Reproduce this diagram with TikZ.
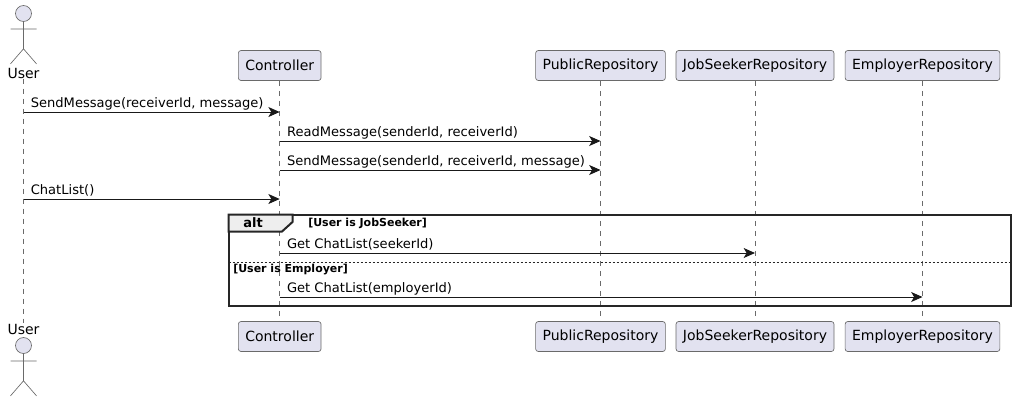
\documentclass[tikz,border=0pt]{standalone}
\usepackage{fontspec}
\setmainfont{DejaVu Sans}
\usetikzlibrary{arrows.meta}
\definecolor{partfill}{HTML}{E2E2F0}
\definecolor{partline}{HTML}{6A6A6A}
\definecolor{tabfill}{HTML}{EEEEEE}
\tikzset{
  partbox/.style={draw=partline,line width=0.5pt,fill=partfill,rounded corners=2pt,minimum height=22.5pt,inner xsep=5.2pt,inner ysep=0pt,font=\fontsize{10.5}{12}\selectfont},
  actorname/.style={inner sep=0pt,text height=8pt,text depth=0pt,font=\fontsize{10.5}{12}\selectfont},
  actorline/.style={draw=partline,line width=0.5pt},
  lifeline/.style={draw=partline,line width=0.4pt,dash pattern=on 3.75pt off 3.75pt},
  msg/.style={draw=black!90,line width=0.75pt,-{Stealth[length=8.5pt,width=7.5pt,inset=2.2pt]}},
  msgtext/.style={anchor=base west,inner sep=0pt,font=\fontsize{9.8}{12}\selectfont},
  guard/.style={anchor=base west,inner sep=0pt,font=\fontsize{8.25}{10}\selectfont\bfseries},
  altframe/.style={draw=black!85,line width=1.5pt}
}
\newcommand{\participant}[2]{\node[partbox] (#1) at (#2,65.5) {#1}; \node[partbox] (#1b) at (#2,336.5) {#1}; \draw[lifeline] (#1) -- (#1b);}
\newcommand{\actorfig}[3]{\node[circle,draw=partline,line width=0.5pt,fill=partfill,minimum size=12pt,inner sep=0pt] (#1) at (#2,#3) {};
    \draw[actorline] (#1.south) -- ++(0,27) ++(-13,15) -- ++(13,-15) -- ++(13,15) (#2-13,#3+15.5) -- (#2+13,#3+15.5);}
\newcommand{\msgline}[5]{\coordinate (#1) at (#2|-0,#4); \draw[msg] (#1) -- (#3|-0,#4); \node[msgtext,xshift=5.3pt,yshift=3.3pt] (#1t) at (#1) {#5};}

\begin{document}
\begin{tikzpicture}[x=0.75pt,y=-0.75pt]
    \useasboundingbox (0,0) rectangle (1016,401);
    \node[actorname] (usertop) at (23.5,73) {User}; \node[actorname] (userbot) at (23.5,329) {User};
    \draw[lifeline] (usertop) -- (userbot);
    \actorfig{usera}{23.5}{13.5} \actorfig{userb}{23.5}{345.5}
    \participant{Controller}{279.7}
    \participant{PublicRepository}{600.5}
    \participant{JobSeekerRepository}{755}
    \participant{EmployerRepository}{922.5}

    % alt frame
    \draw[altframe] (228.5,214.5) -- (1010.5,214.5) -- (1010.5,305.5) -- (228.5,305.5) -- cycle;
    \draw[altframe,fill=tabfill] (228.5,214.5) -- (292.5,214.5) -- (292.5,222) -- (282,231.5) -- (228.5,231.5) -- cycle;
    \node[anchor=base west,inner sep=0pt,font=\fontsize{9.75}{12}\selectfont\bfseries] (altname) at (243,227) {alt};
    \node[guard] (guardone) at (308,226) {[User is JobSeeker]};
    \node[guard] (guardtwo) at (233,272) {[User is Employer]};
    \draw[line width=0.75pt,black!85,dash pattern=on 1.5pt off 1.5pt] (228.5,262) -- (1010.5,262);

    \msgline{mone}{usertop}{Controller}{112}{SendMessage(receiverId, message)}
    \msgline{mtwo}{Controller}{PublicRepository}{141}{ReadMessage(senderId, receiverId)}
    \msgline{mthree}{Controller}{PublicRepository}{170}{SendMessage(senderId, receiverId, message)}
    \msgline{mfour}{usertop}{Controller}{199}{ChatList()}
    \msgline{mfive}{Controller}{JobSeekerRepository}{253}{Get ChatList(seekerId)}
    \msgline{msix}{Controller}{EmployerRepository}{297}{Get ChatList(employerId)}
\end{tikzpicture}
\end{document}
